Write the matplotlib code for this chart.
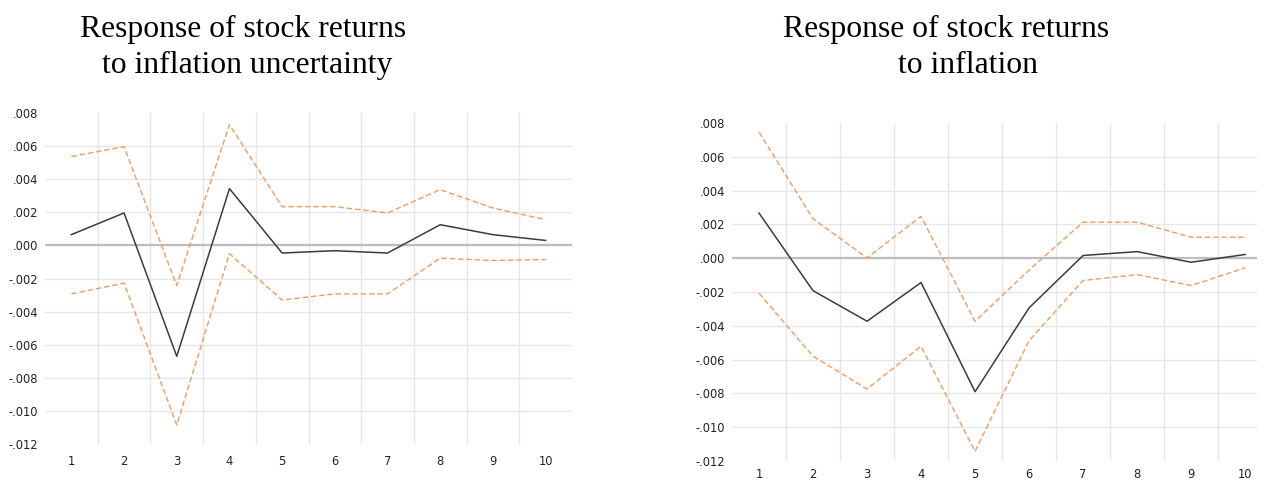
import numpy as np
import matplotlib
matplotlib.use("Agg")
import matplotlib.pyplot as plt

# horizons
periods = [1, 2, 3, 4, 5, 6, 7, 8, 9, 10]

# response to inflation uncertainty
unc_mid = [0.00065, 0.00196, -0.0067, 0.00343, -0.00046, -0.00032, -0.00046, 0.00125, 0.00065, 0.00030]
unc_up = [0.00537, 0.00596, -0.00242, 0.00730, 0.00234, 0.00234, 0.00196, 0.00337, 0.00226, 0.00156]
unc_lo = [-0.00293, -0.00228, -0.01085, -0.00050, -0.00330, -0.00293, -0.00293, -0.00077, -0.00091, -0.00085]

# response to inflation
inf_mid = [0.00267, -0.00192, -0.00373, -0.00144, -0.00790, -0.00294, 0.00016, 0.00039, -0.00024, 0.00022]
inf_up = [0.00746, 0.00233, 0.00002, 0.00247, -0.00373, -0.00070, 0.00213, 0.00213, 0.00124, 0.00124]
inf_lo = [-0.00207, -0.00580, -0.00774, -0.00521, -0.01143, -0.00488, -0.00132, -0.00097, -0.00162, -0.00057]

yticks = [0.008, 0.006, 0.004, 0.002, 0.0, -0.002, -0.004, -0.006, -0.008, -0.010, -0.012]
ylabels = [".008", ".006", ".004", ".002", ".000", "-.002", "-.004", "-.006", "-.008", "-.010", "-.012"]

W, H = 1264, 482
fig = plt.figure(figsize=(W / 100, H / 100), dpi=100)

mid_col = "#3c3c3c"
band_col = "#ee9d62"


def draw(ax, mid, up, lo, xmax, xpad):
    ax.plot(periods, up, color=band_col, lw=1.0, ls=(0, (4, 2)), zorder=3)
    ax.plot(periods, lo, color=band_col, lw=1.0, ls=(0, (4, 2)), zorder=3)
    ax.plot(periods, mid, color=mid_col, lw=1.1, zorder=4)
    ax.axhline(0, color="#bdbdbd", lw=1.6, zorder=2)
    ax.set_xlim(0.5, xmax)
    ax.set_ylim(-0.012, 0.008)
    ax.set_xticks(periods)
    ax.set_xticks(np.arange(1.5, 10, 1.0), minor=True)
    ax.set_yticks(yticks)
    ax.set_yticklabels(ylabels)
    ax.grid(True, axis="y", which="major", color="#e6e6e6", lw=1.0, zorder=0)
    ax.grid(True, axis="x", which="minor", color="#e6e6e6", lw=1.0, zorder=0)
    gl = ax.yaxis.get_gridlines()
    gl[0].set_visible(False)
    gl[-1].set_visible(False)
    for s in ax.spines.values():
        s.set_visible(False)
    ax.tick_params(which="both", length=0, labelsize=8.3, colors="#222222")
    ax.tick_params(axis="y", pad=5)
    ax.tick_params(axis="x", pad=xpad)


ax1 = fig.add_axes([45 / W, 1 - 444 / H, 527 / W, 331 / H])
draw(ax1, unc_mid, unc_up, unc_lo, 10.5, 8)

ax2 = fig.add_axes([732 / W, 1 - 461 / H, 525 / W, 338 / H])
draw(ax2, inf_mid, inf_up, inf_lo, 10.22, 5)

tkw = dict(ha="center", va="baseline", family="Liberation Serif", fontsize=22.8)
fig.text(243.5 / W, 1 - 37 / H, "Response of stock returns", **tkw)
fig.text(247.5 / W, 1 - 73 / H, "to inflation uncertainty", **tkw)
fig.text(946.5 / W, 1 - 37 / H, "Response of stock returns", **tkw)
fig.text(968.5 / W, 1 - 73 / H, "to inflation", **tkw)

fig.savefig("out.png", dpi=100)
